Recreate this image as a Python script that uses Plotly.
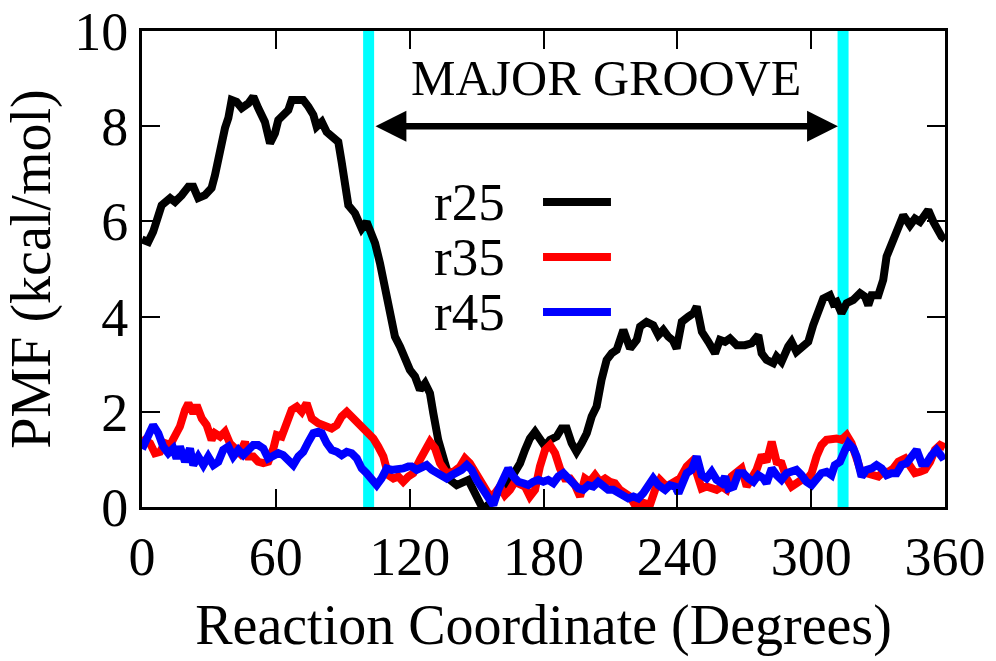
import plotly.graph_objects as go

# ---------------- data ----------------
r25_deg = [0, 1.3, 2.8, 5, 7.3, 8.8, 12.6, 14.8, 17.8, 20.8, 23, 25.2, 28.2, 31.2, 32.7, 35, 37.2, 38.7,
           40.2, 42.4, 44.7, 47.7, 49.9, 52.1, 55.1, 57.4, 59.6, 61.1, 64.1, 65.6, 67.1, 69.4, 72.3, 74.6,
           76.8, 78.3, 80.6, 82.8, 85.7, 88, 89.5, 91, 92.5, 95.5, 98.5, 100.7, 102.9, 104.5, 106.7, 109,
           111.2, 113.4, 115.7, 117.9, 120.1, 122.4, 124.6, 126.9, 129.1, 130.6, 132.8, 135.8, 138.1, 141.1,
           144, 146.3, 149.3, 152.3, 154.5, 157.5, 160.5, 164.2, 167.2, 169.5, 171.7, 173.9, 176.2, 178.4,
           180.7, 182.9, 185.9, 188.1, 190.4, 192.6, 194.8, 197.1, 199.4, 201.6, 203.8, 206, 208.3, 210.6,
           212.8, 215.8, 218.8, 221.8, 223.3, 226.2, 229.2, 231.5, 233.7, 235.9, 238, 239.7, 242, 245,
           247.2, 248.7, 251, 253.9, 256.9, 259.1, 261.4, 263.6, 266.6, 270.3, 273.3, 276.3, 277.8, 280,
           283, 284.5, 286.7, 289.7, 291.2, 293.4, 295.7, 298.7, 300.9, 303.2, 305.4, 308.4, 309.9, 311.4,
           313.6, 315.9, 318.9, 321.9, 324.1, 325.6, 327.1, 330.1, 332.3, 333.8, 336.8, 339.1, 341.3, 344.3,
           346.5, 348.8, 352.5, 354.8, 356.3, 358.5, 360]
r25_pmf = [5.62, 5.61, 5.57, 5.78, 6.2, 6.34, 6.49, 6.41, 6.55, 6.73, 6.73, 6.49, 6.55, 6.7, 6.97, 7.6, 7.96, 8.17,
           8.55, 8.51, 8.38, 8.48, 8.62, 8.38, 8.09, 7.64, 7.85, 8.13, 8.27, 8.34, 8.55, 8.55, 8.55, 8.41,
           8.24, 7.99, 8.09, 7.88, 7.78, 7.67, 7.25, 6.62, 6.34, 6.17, 5.85, 5.99, 5.78, 5.54, 5.12, 4.63,
           4.07, 3.58, 3.37, 3.09, 2.88, 2.74, 2.46, 2.6, 2.39, 1.97, 1.41, 0.92, 0.57, 0.46,
           0.5, 0.57, 0.29, 0.01, 0.0, 0.18, 0.36, 0.5, 0.71, 0.92, 1.2, 1.44, 1.58, 1.44,
           1.27, 1.41, 1.48, 1.65, 1.65, 1.34, 1.16, 1.34, 1.55, 1.9, 2.11, 2.67, 3.09, 3.23,
           3.3, 3.72, 3.33, 3.51, 3.79, 3.89, 3.82, 3.61, 3.72, 3.58, 3.5, 3.33, 3.89, 4.0,
           4.07, 4.21, 3.68, 3.47, 3.23, 3.51, 3.47, 3.54, 3.4, 3.4, 3.44, 3.61, 3.23, 3.09,
           3.02, 3.16, 3.05, 3.37, 3.47, 3.26, 3.37, 3.47, 3.82, 4.14, 4.38, 4.45, 4.28, 4.31,
           4.07, 4.28, 4.35, 4.49, 4.42, 4.24, 4.45, 4.45, 4.77, 5.26, 5.61, 5.89, 6.13, 5.92,
           6.06, 5.99, 6.24, 5.99, 5.82, 5.68, 5.62]

r35_deg = [0, 1.3, 3.6, 5.8, 8.1, 10.3, 12.6, 14.8, 17, 19.3, 20.8, 23, 24.5, 26.8, 29, 31.2, 32.7, 35, 37.2,
           39.4, 41.7, 43.9, 46.2, 47.7, 49.9, 52.1, 54.4, 56.6, 58.9, 60.4, 62.6, 64.9, 67.1, 69.4, 71.6,
           73.8, 76.1, 79, 82, 85, 87.3, 89.5, 91.8, 94, 96.3, 98.5, 100.7, 103.7, 105.9, 108.2, 110.4,
           112.7, 114.9, 117.1, 119.4, 121.6, 124.6, 126.9, 129.1, 131.4, 133.6, 136.6, 139.6, 142.6, 144.8,
           147, 149.3, 151.5, 153.8, 156, 158.3, 160.5, 162.7, 165, 167.2, 169.5, 171.7, 173.9, 176.2, 178.4,
           180.7, 182.9, 185.2, 187.4, 189.6, 191.9, 194.1, 196.4, 198.6, 200.8, 203.1, 205.3, 207.6, 209.8,
           212, 214.3, 216.5, 218.8, 221, 223.3, 225.5, 227.7, 230, 232.2, 235.2, 238.2, 241.2, 244.2, 246.4,
           248.7, 250.9, 253.1, 255.4, 257.6, 259.9, 262.1, 264.3, 266.6, 268.8, 271.1, 273.3, 275.5, 277.8,
           280, 282.3, 284.5, 286.7, 289, 291.2, 293.4, 295.7, 297.9, 300.2, 302.4, 304.6, 306.9, 309.1,
           311.4, 313.6, 315.9, 318.1, 320.4, 322.6, 324.8, 327.8, 330.1, 332.3, 334.6, 336.8, 339.1, 342.1,
           344.3, 346.5, 348.8, 351, 353.3, 355.5, 357.8, 360]
r35_pmf = [1.36, 1.41, 1.34, 1.13, 1.16, 1.34, 1.3, 1.48, 1.69, 2.04, 2.18, 1.97, 2.14, 1.86, 1.72, 1.41, 1.55, 1.48, 1.58,
           1.34, 1.2, 1.13, 1.37, 1.06, 1.06, 0.95, 0.92, 0.95, 1.23, 1.51, 1.48, 1.76, 2.04, 2.11, 2.0,
           2.18, 1.86, 1.76, 1.72, 1.65, 1.72, 1.9, 2.0, 1.9, 1.76, 1.69, 1.55, 1.44, 1.27, 1.06, 0.67,
           0.6, 0.64, 0.53, 0.64, 0.71, 0.99, 1.2, 1.37, 1.23, 0.92, 0.71, 0.74, 0.85, 1.02,
           0.92, 0.74, 0.57, 0.36, 0.22, 0.29, 0.43, 0.25, 0.36, 0.53, 0.5, 0.43, 0.22, 0.36, 0.85,
           1.2, 1.3, 1.13, 0.81, 0.6, 0.6, 0.46, 0.22, 0.6, 0.53, 0.67, 0.53, 0.6, 0.53,
           0.5, 0.36, 0.29, 0.22, 0.04, 0.11, 0.08, 0.04, 0.36, 0.57, 0.43, 0.53, 0.6, 0.85, 0.95,
           0.71, 0.39, 0.43, 0.39, 0.36, 0.43, 0.36, 0.64, 0.74, 0.81, 0.43, 0.57, 0.78, 1.09,
           0.95, 1.37, 0.95, 0.92, 0.6, 0.43, 0.5, 0.57, 0.57, 0.71, 1.06, 1.3, 1.41, 1.44,
           1.44, 1.41, 1.51, 1.34, 1.02, 0.71, 0.71, 0.67, 0.64, 0.74, 0.74, 0.81, 0.95, 1.02,
           0.88, 0.71, 0.74, 0.78, 0.95, 1.2, 1.3, 1.25]

r45_deg = [0, 0.6, 2.8, 5, 7.3, 9.5, 11.8, 14, 15.5, 17, 19.3, 21.5, 23, 25.2, 27.5, 29.7, 32, 34.2, 36.4,
           38.7, 40.9, 43.2, 45.4, 47.7, 49.9, 52.1, 54.4, 56.6, 58.9, 61.1, 63.3, 65.6, 67.8, 70.1, 72.3,
           74.6, 76.8, 79, 80.6, 82.8, 85, 87.3, 89.5, 91.8, 94, 96.3, 98.5, 100.7, 102.9, 105.2, 107.4,
           109.7, 111.9, 114.2, 117.1, 119.4, 120.9, 123.1, 125.4, 127.6, 129.9, 132.1, 134.4, 136.6, 138.8,
           141.1, 143.3, 145.6, 147.8, 150, 153, 155.3, 157.5, 159.7, 162, 164.2, 166.5, 168.7, 171, 173.2,
           175.4, 177.7, 179.9, 182.1, 184.4, 186.6, 188.9, 191.1, 193.3, 195.6, 197.8, 200.1, 202.3, 204.5,
           206.8, 209, 211.3, 213.5, 215.8, 218, 220.3, 222.5, 224.7, 227, 229.2, 231.5, 234.5, 236.7, 239,
           240.5, 242, 244.2, 246.4, 248.7, 250.9, 253.1, 255.4, 257.6, 259.9, 261.4, 262.9, 265.2, 267.4,
           269.6, 271.9, 274.1, 276.3, 278.6, 280, 282.3, 284.5, 286.7, 289, 291.2, 293.4, 295.7, 297.9,
           300.2, 302.4, 304.6, 306.9, 309.1, 310.6, 312.9, 315.2, 316.7, 318.9, 320.4, 322.6, 324.8, 327.1,
           329.3, 331.6, 333.8, 336, 338.3, 340.5, 342.8, 345, 347.3, 349.5, 351.7, 354, 356.2, 358.5, 360]
r45_pmf = [1.22, 1.27, 1.48, 1.72, 1.55, 1.27, 1.13, 1.23, 1.02, 1.27, 0.95, 1.23, 0.88, 1.06, 0.88, 1.06, 0.88, 0.95, 1.2,
           1.27, 1.06, 1.2, 1.09, 1.2, 1.3, 1.3, 1.23, 1.02, 1.06, 1.13, 1.09, 0.99, 0.88, 1.06, 1.16,
           1.37, 1.55, 1.58, 1.55, 1.34, 1.2, 1.16, 1.09, 1.16, 1.13, 1.02, 0.81, 0.71, 0.6, 0.46, 0.6,
           0.81, 0.78, 0.78, 0.81, 0.85, 0.85, 0.78, 0.85, 0.88, 0.78, 0.71, 0.67, 0.6, 0.67,
           0.71, 0.78, 0.88, 0.78, 0.57, 0.36, 0.18, 0.04, 0.36, 0.6, 0.81, 0.64, 0.53, 0.5, 0.46,
           0.53, 0.57, 0.53, 0.57, 0.5, 0.64, 0.71, 0.57, 0.5, 0.39, 0.36, 0.46, 0.43, 0.53,
           0.46, 0.36, 0.36, 0.29, 0.22, 0.18, 0.22, 0.18, 0.29, 0.46, 0.6, 0.46, 0.36, 0.46, 0.43,
           0.29, 0.5, 0.71, 0.78, 1.06, 0.67, 0.6, 0.74, 0.57, 0.5, 0.64, 0.39, 0.43, 0.71,
           0.71, 0.6, 0.53, 0.67, 0.6, 0.5, 0.81, 0.67, 0.57, 0.71, 0.74, 0.78, 0.67, 0.53,
           0.46, 0.57, 0.71, 0.74, 0.67, 0.88, 0.95, 1.2, 1.34, 1.23, 1.06, 0.64, 0.78, 0.81,
           0.88, 0.81, 0.67, 0.71, 0.71, 0.88, 0.92, 1.06, 1.2, 0.92, 0.92, 1.09, 1.2, 1.06, 1.1]

series_names = ["r25", "r35", "r45"]
series_colors = ["#000000", "#ff0000", "#0000ff"]

groove_bounds = [101.6, 314.3]       # cyan boundary lines (degrees)
groove_arrow = [104.0, 312.0, 8.0]   # arrow start, end, level
groove_label = "MAJOR GROOVE"

x_ticks = [0, 60, 120, 180, 240, 300, 360]
y_ticks = [0, 2, 4, 6, 8, 10]

# ---------------- figure ----------------
FONT = "Liberation Serif"
LW = 8
fig = go.Figure()

xs = [r25_deg, r35_deg, r45_deg]
ys = [r25_pmf, r35_pmf, r45_pmf]
for name, color, x, y in zip(series_names, series_colors, xs, ys):
    fig.add_trace(go.Scatter(x=x, y=y, mode="lines", name=name,
                             line=dict(color=color, width=LW), showlegend=False))

for b in groove_bounds:
    fig.add_shape(type="line", xref="x", yref="y domain", x0=b, x1=b, y0=0, y1=1,
                  line=dict(color="#00ffff", width=11), layer="below")

# double-headed arrow
fig.add_annotation(x=groove_arrow[1], y=groove_arrow[2], ax=groove_arrow[0], ay=groove_arrow[2],
                   xref="x", yref="y", axref="x", ayref="y", text="", showarrow=True,
                   arrowside="end+start", arrowhead=2, startarrowhead=2,
                   arrowwidth=6.5, arrowsize=0.95, startarrowsize=0.95, arrowcolor="black", standoff=0,
                   startstandoff=0)
fig.add_annotation(x=(groove_arrow[0] + groove_arrow[1]) / 2, y=0.902, xref="x", yref="paper",
                   text=groove_label, showarrow=False, font=dict(family=FONT, size=50, color="black"),
                   yanchor="middle")

# manual key: label on the left, line sample on the right (gnuplot style)
key_text_x, key_line_x0, key_line_x1 = 0.4545, 0.4994, 0.584
key_y0, key_dy = 0.6408, 0.1156
for i, (name, color) in enumerate(zip(series_names, series_colors)):
    yy = key_y0 - i * key_dy
    fig.add_annotation(x=key_text_x, y=yy, xref="paper", yref="paper", text=name, showarrow=False,
                       xanchor="right", yanchor="middle", font=dict(family=FONT, size=53, color="black"))
    fig.add_shape(type="line", xref="paper", yref="paper", x0=key_line_x0, x1=key_line_x1, y0=yy, y1=yy,
                  line=dict(color=color, width=LW))

axis_common = dict(showline=True, linewidth=3, linecolor="black", mirror="allticks", ticks="inside",
                   ticklen=18, tickwidth=2, tickcolor="black", showgrid=False, zeroline=False,
                   tickfont=dict(family=FONT, size=54, color="black"))
fig.update_xaxes(range=[0, 360], tickvals=x_ticks, title=dict(text="Reaction Coordinate (Degrees)",
                 font=dict(family=FONT, size=56, color="black"), standoff=20), **axis_common)
fig.update_yaxes(range=[0, 10], tickvals=y_ticks, title=dict(text="PMF (kcal/mol)",
                 font=dict(family=FONT, size=56, color="black"), standoff=8), **axis_common)

fig.update_layout(width=996, height=661, margin=dict(l=142, r=51, t=31, b=154, autoexpand=False),
                  paper_bgcolor="white", plot_bgcolor="white", showlegend=False)

fig.write_html("out.html")
